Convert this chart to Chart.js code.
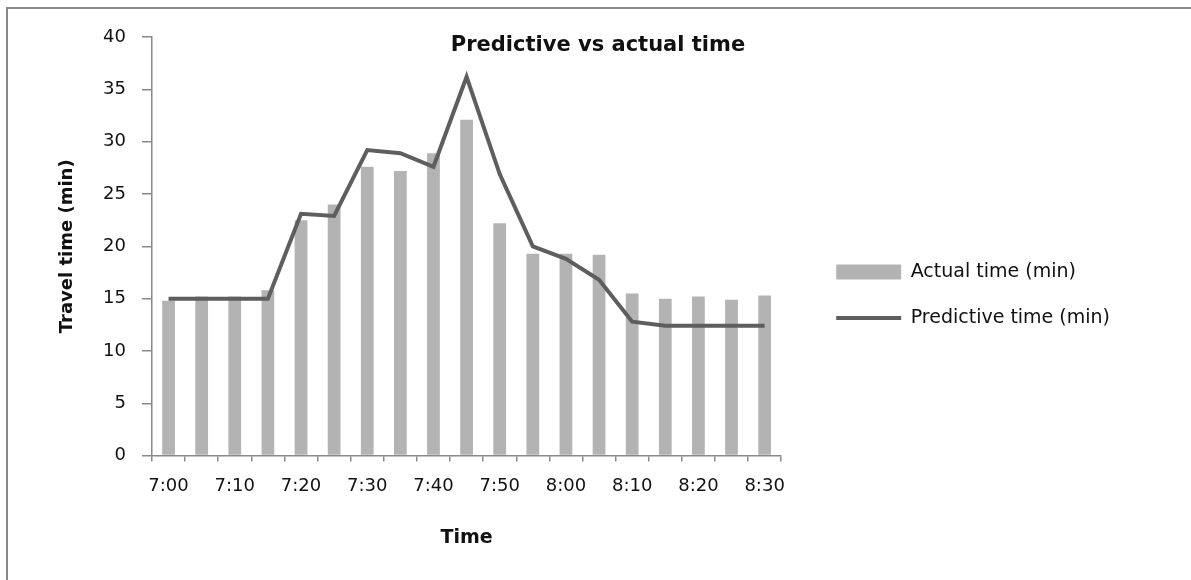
<!DOCTYPE html>
<html>
<head>
<meta charset="utf-8">
<script src="https://cdn.jsdelivr.net/npm/chart.js@4/dist/chart.umd.min.js"></script>
<style>
  html, body { margin: 0; padding: 0; background: #fff; }
  #wrap { position: relative; width: 1191px; height: 580px; }
  #frame { position: absolute; left: 6px; top: 7px; right: -10px; bottom: -10px;
           border-top: 2px solid #8a8a8a; border-left: 2px solid #8a8a8a; pointer-events: none; }
</style>
</head>
<body>
<div id="wrap">
  <canvas id="ctx" width="1191" height="580"></canvas>
  <div id="frame"></div>
</div>
<script>
var times = ['7:00', '7:05', '7:10', '7:15', '7:20', '7:25', '7:30', '7:35', '7:40', '7:45',
             '7:50', '7:55', '8:00', '8:05', '8:10', '8:15', '8:20', '8:25', '8:30'];
var actualTime = [14.8, 15.2, 15.2, 15.8, 22.5, 24.0, 27.6, 27.2, 28.9, 32.1,
                  22.2, 19.3, 19.3, 19.2, 15.5, 15.0, 15.2, 14.9, 15.3];
var predictiveTime = [15.0, 15.0, 15.0, 15.0, 23.1, 22.9, 29.2, 28.9, 27.6, 36.2,
                      26.9, 20.0, 18.8, 16.8, 12.8, 12.4, 12.4, 12.4, 12.4];
var seriesNames = ['Actual time (min)', 'Predictive time (min)'];
var chartTitle = 'Predictive vs actual time';

var FONT = 'DejaVu Sans';

// title sits inside the plot area like in the original, so draw it by hand
var titlePlugin = {
    id: 'insideTitle',
    afterDraw: function (chart) {
        var c = chart.ctx;
        c.save();
        c.font = 'bold 21px "' + FONT + '"';
        c.fillStyle = '#111';
        c.textAlign = 'center';
        c.textBaseline = 'middle';
        c.fillText(chartTitle, 598, 46);
        c.restore();
    }
};

var ctx = document.getElementById('ctx').getContext('2d');

var myChart = new Chart(ctx, {
    type: 'bar',
    data: {
        labels: times,
        datasets: [{
            type: 'bar',
            label: seriesNames[0],
            data: actualTime,
            backgroundColor: '#b3b3b3',
            borderWidth: 0,
            categoryPercentage: 1.0,
            barPercentage: 0.385,
            order: 1
        }, {
            type: 'line',
            label: seriesNames[1],
            data: predictiveTime,
            borderColor: '#5e5e5e',
            backgroundColor: '#5e5e5e',
            borderWidth: 4,
            pointRadius: 0,
            tension: 0,
            order: 0
        }]
    },
    options: {
        responsive: false,
        animation: false,
        layout: { padding: { left: 53, top: 37, right: 71, bottom: 27 } },
        plugins: {
            tooltip: { enabled: false },
            legend: {
                position: 'right',
                maxWidth: 420,
                labels: {
                    usePointStyle: true,
                    pointStyleWidth: 65,
                    boxHeight: 15,
                    padding: 27,
                    color: '#111',
                    font: { family: FONT, size: 19 },
                    sort: function (a, b) { return a.datasetIndex - b.datasetIndex; },
                    generateLabels: function (chart) {
                        var items = Chart.defaults.plugins.legend.labels.generateLabels(chart);
                        items.forEach(function (it) {
                            if (it.datasetIndex === 0) {
                                it.pointStyle = 'rect';
                                it.lineWidth = 0;
                                it.fillStyle = '#b3b3b3';
                            } else {
                                it.pointStyle = 'line';
                                it.lineWidth = 4;
                                it.strokeStyle = '#5e5e5e';
                            }
                        });
                        return items;
                    }
                }
            }
        },
        scales: {
            x: {
                offset: true,
                grid: { display: true, drawOnChartArea: false, offset: true, tickLength: 6, color: '#8a8a8a', lineWidth: 1.5 },
                border: { color: '#8a8a8a', width: 1.5 },
                ticks: {
                    autoSkip: false,
                    maxRotation: 0,
                    minRotation: 0,
                    padding: 14,
                    color: '#111',
                    font: { family: FONT, size: 18 },
                    callback: function (v, i) { return i % 2 ? '' : times[i]; }
                },
                title: {
                    display: true,
                    text: 'Time',
                    color: '#111',
                    font: { family: FONT, size: 19, weight: 'bold' },
                    padding: { top: 15, bottom: 4 }
                }
            },
            y: {
                min: 0,
                max: 40,
                grid: { display: true, drawOnChartArea: false, tickLength: 10, color: '#8a8a8a', lineWidth: 1.5 },
                border: { color: '#8a8a8a', width: 1.5 },
                ticks: {
                    stepSize: 5,
                    padding: 16,
                    color: '#111',
                    font: { family: FONT, size: 18 }
                },
                title: {
                    display: true,
                    text: 'Travel time (min)',
                    color: '#111',
                    font: { family: FONT, size: 18, weight: 'bold' },
                    padding: { top: 4, bottom: 20 }
                },
                afterFit: function (s) { s.width = 99; }
            },
            yr: {
                type: 'linear',
                position: 'right',
                display: true,
                grid: { display: false },
                border: { display: false },
                ticks: { display: false },
                afterFit: function (s) { s.width = 28; }
            }
        }
    },
    plugins: [titlePlugin]
});
</script>
</body>
</html>
